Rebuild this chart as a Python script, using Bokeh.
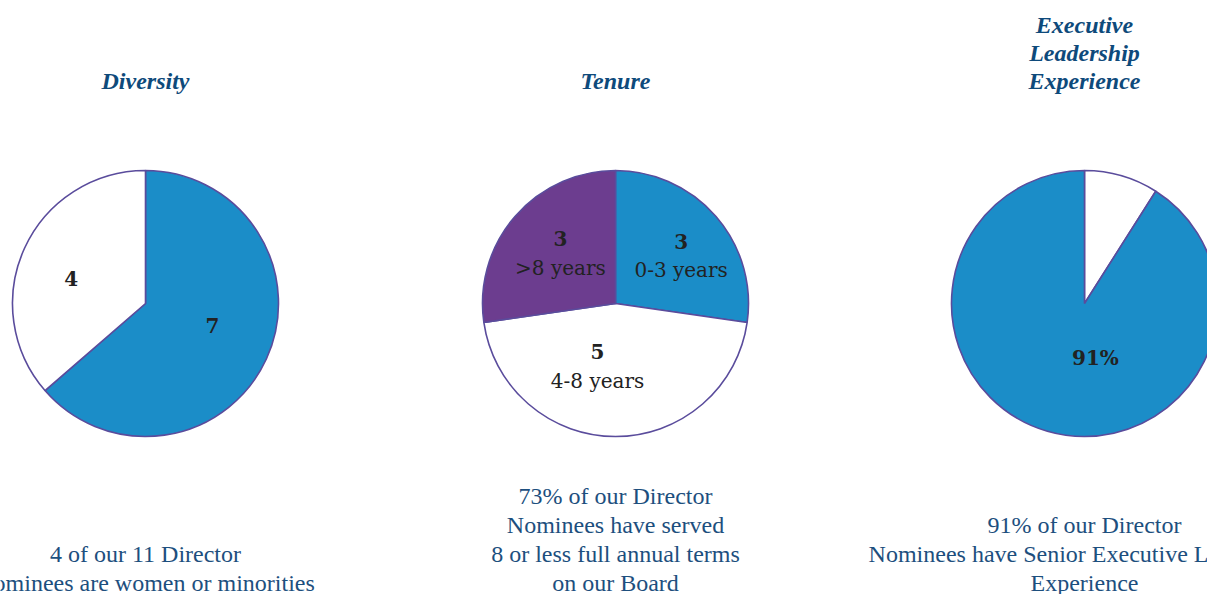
import math
from bokeh.plotting import figure
from bokeh.models import Range1d
from bokeh.core.properties import value
from bokeh.embed import file_html
from bokeh.resources import INLINE

# ---------------- data ----------------
titles = [["Diversity"], ["Tenure"], ["Executive", "Leadership", "Experience"]]

diversity_values = [7, 4]
diversity_colors = ["#1B8DC8", "#FFFFFF"]
diversity_labels = [["7"], ["4"]]

tenure_values = [3, 5, 3]
tenure_colors = ["#1B8DC8", "#FFFFFF", "#6C3D8F"]
tenure_labels = [["3", "0-3 years"], ["5", "4-8 years"], ["3", ">8 years"]]

exec_values = [9, 91]
exec_colors = ["#FFFFFF", "#1B8DC8"]
exec_labels = [[], ["91%"]]

captions = [
    ["4 of our 11 Director", "Nominees are women or minorities"],
    ["73% of our Director", "Nominees have served", "8 or less full annual terms", "on our Board"],
    ["91% of our Director", "Nominees have Senior Executive Leadership", "Experience"],
]

# ---------------- layout ----------------
W, H = 1207, 594
PIE_X = [145, 615, 1084]
PIE_Y_PX = 303
R = 133
# label placement per slice: (radius fraction, angle offset from slice middle in degrees)
LABEL_PLACE = [
    [(0.53, 6.3), (0.59, 5.8)],
    [(0.61, -4.9), (0.49, -16.0), (0.56, -1.4)],
    [(0.0, 0.0), (0.42, 27.5)],
]
LABEL_LH = 29
TITLE_BOTTOM_PX = 80
TITLE_LH = 28
CAP_BOTTOM_PX = 582
CAP_LH = 29

TITLE_COLOR = "#0E4A7B"
CAP_COLOR = "#1D4F7E"
EDGE = "#5A4C9C"
LABEL_COLOR = "#222222"

def Y(py):
    return H - py

p = figure(width=W, height=H, output_backend="svg", toolbar_location=None,
           x_range=Range1d(0, W), y_range=Range1d(0, H), min_border=0)
p.axis.visible = False
p.grid.visible = False
p.outline_line_color = None
p.background_fill_color = "#FFFFFF"
p.border_fill_color = "#FFFFFF"

pies = [
    (diversity_values, diversity_colors, diversity_labels),
    (tenure_values, tenure_colors, tenure_labels),
    (exec_values, exec_colors, exec_labels),
]

for i, (vals, cols, labs) in enumerate(pies):
    total = float(sum(vals))
    cx, cy = PIE_X[i], Y(PIE_Y_PX)
    starts, ends, mids = [], [], []
    cum = 0.0
    for v in vals:
        a0 = math.pi / 2 - cum / total * 2 * math.pi
        cum += v
        a1 = math.pi / 2 - cum / total * 2 * math.pi
        starts.append(a0)
        ends.append(a1)
        mids.append((a0 + a1) / 2)
    p.wedge(x=[cx] * len(vals), y=[cy] * len(vals), radius=R,
            start_angle=starts, end_angle=ends, direction="clock",
            fill_color=cols, line_color=EDGE, line_width=1.6)
    # labels
    for j, (lab, m) in enumerate(zip(labs, mids)):
        if not lab:
            continue
        rf, off = LABEL_PLACE[i][j]
        ang = m + math.radians(off)
        lx = cx + rf * R * math.cos(ang)
        ly = cy + rf * R * math.sin(ang)
        n = len(lab)
        for k, t in enumerate(lab):
            yy = ly + ((n - 1) / 2 - k) * LABEL_LH
            p.text(x=[lx], y=[yy], text=[t], text_align="center", text_baseline="middle",
                   text_font=value("DejaVu Serif"),
                   text_font_style="bold" if k == 0 else "normal",
                   text_font_size="20px", text_color=LABEL_COLOR)

    # title
    tl = titles[i]
    for k, t in enumerate(tl):
        py = TITLE_BOTTOM_PX - (len(tl) - 1 - k) * TITLE_LH
        p.text(x=[cx], y=[Y(py)], text=[t], text_align="center", text_baseline="middle",
               text_font=value("Liberation Serif"), text_font_style="bold italic",
               text_font_size="24px", text_color=TITLE_COLOR)

    # caption
    cl = captions[i]
    for k, t in enumerate(cl):
        py = CAP_BOTTOM_PX - (len(cl) - 1 - k) * CAP_LH
        p.text(x=[cx], y=[Y(py)], text=[t], text_align="center", text_baseline="middle",
               text_font=value("Liberation Serif"), text_font_size="24px",
               text_color=CAP_COLOR)

open("out.html", "w").write(file_html(p, INLINE))
